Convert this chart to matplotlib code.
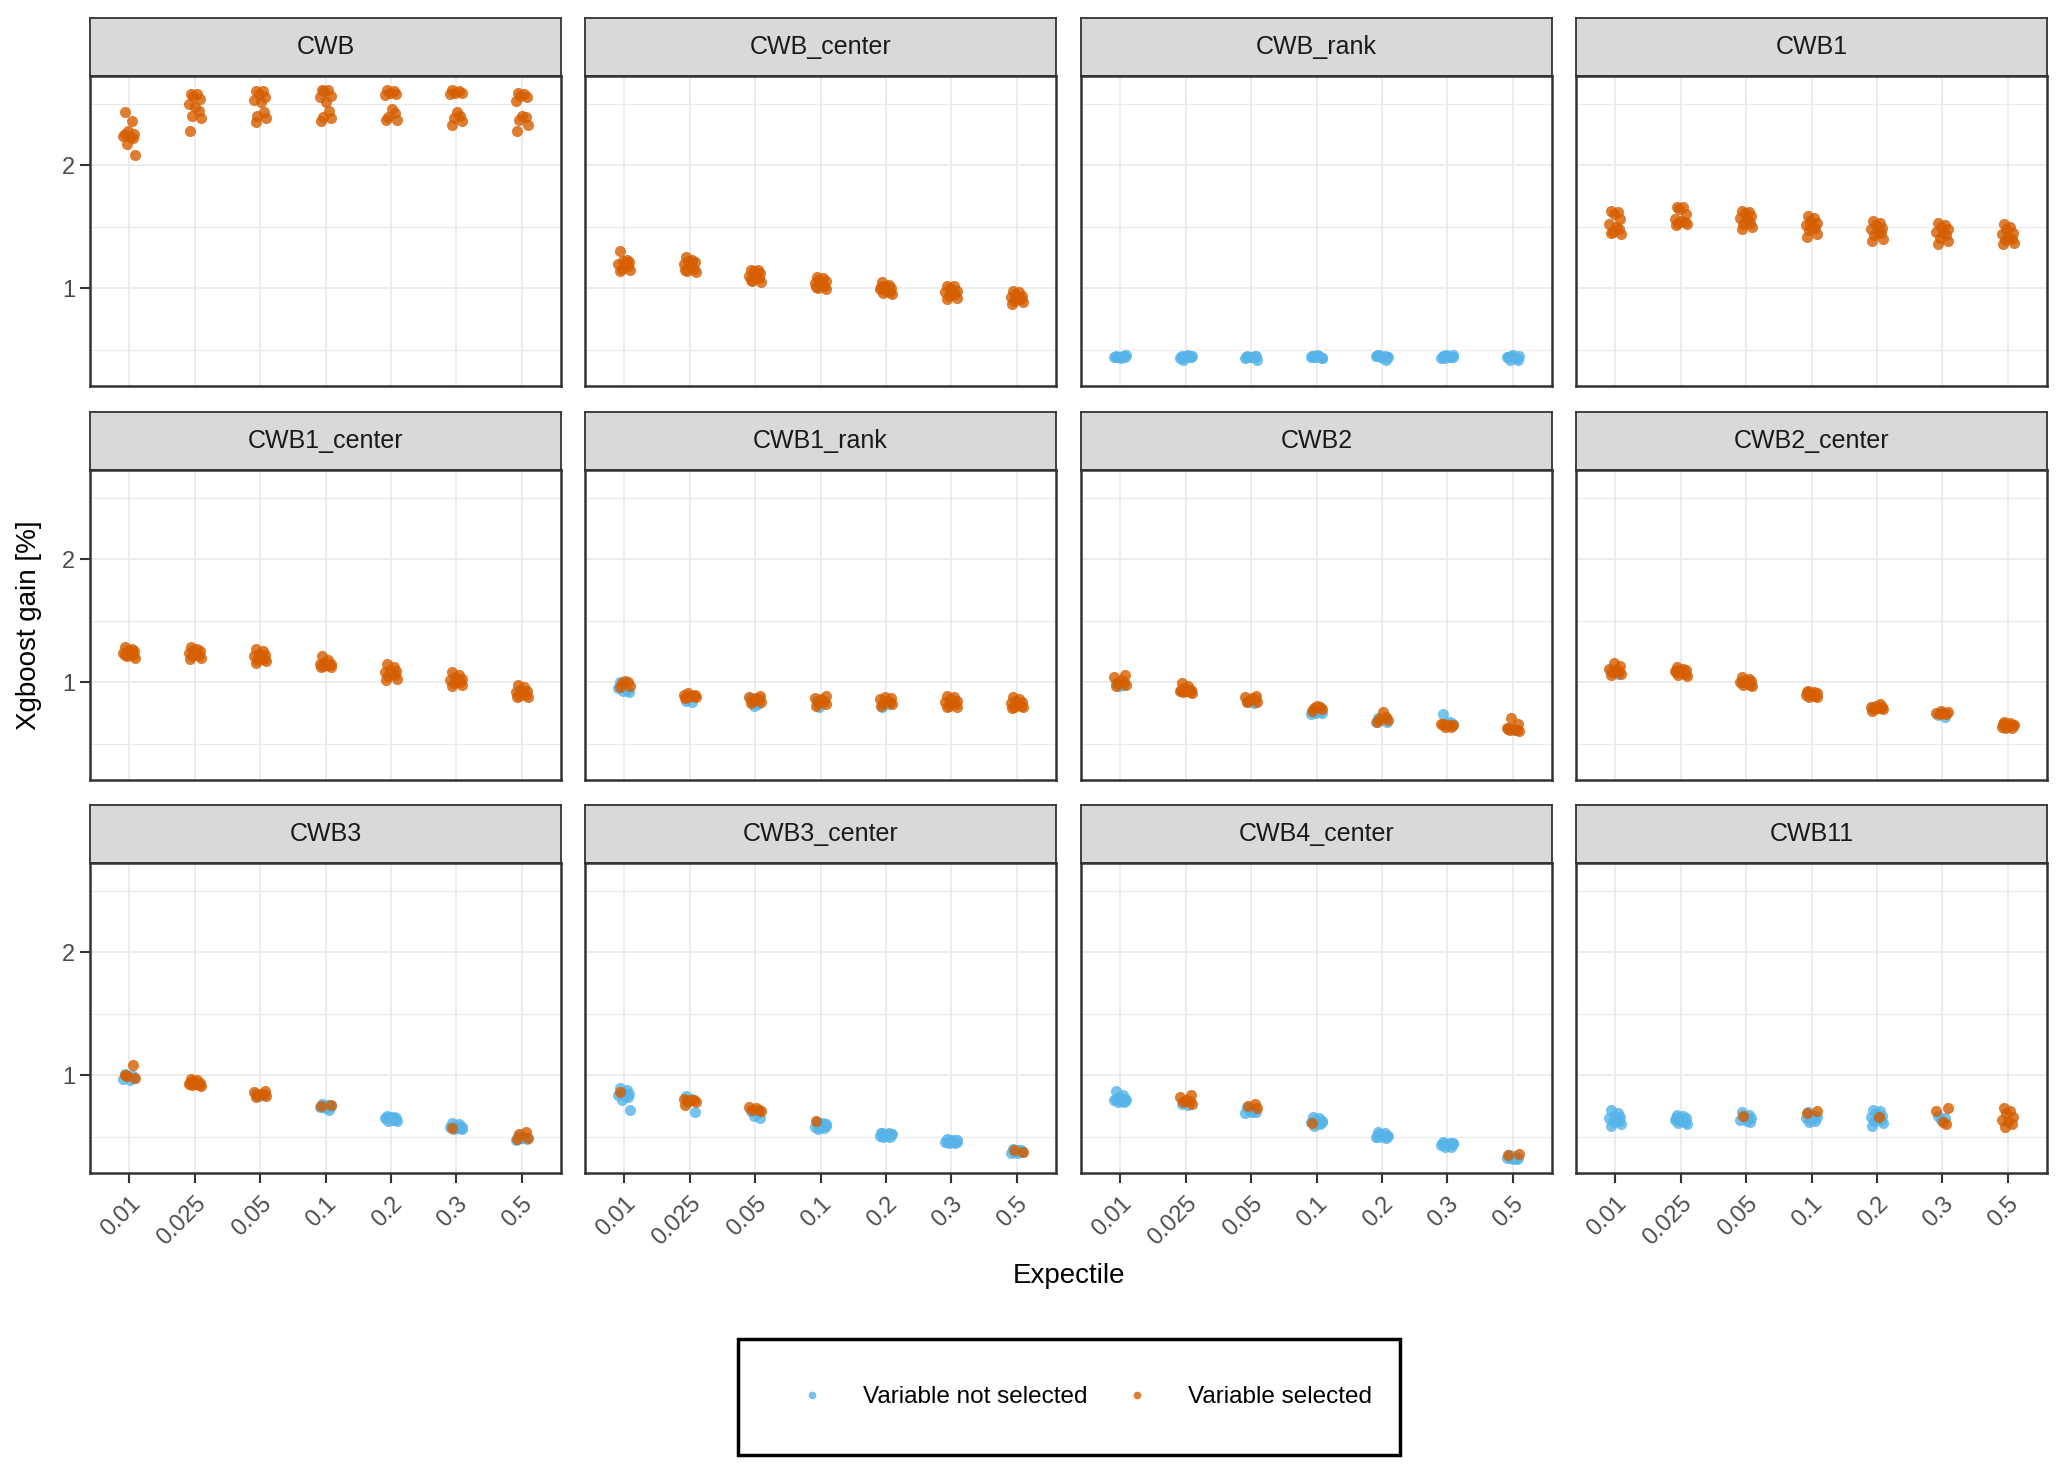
import matplotlib.pyplot as plt
from matplotlib.lines import Line2D
from matplotlib.patches import Rectangle

plt.rcParams['font.family'] = ['Liberation Sans', 'DejaVu Sans']

expectiles = ['0.01', '0.025', '0.05', '0.1', '0.2', '0.3', '0.5']
panels = ['CWB', 'CWB_center', 'CWB_rank', 'CWB1',
          'CWB1_center', 'CWB1_rank', 'CWB2', 'CWB2_center',
          'CWB3', 'CWB3_center', 'CWB4_center', 'CWB11']

# Xgboost gain [%] per expectile (one list per expectile)
# _sel = variable selected, _not = variable not selected
cwb_sel = [[2.43, 2.36, 2.28, 2.25, 2.24, 2.23, 2.22, 2.17, 2.08, 2.25],
           [2.58, 2.58, 2.56, 2.54, 2.50, 2.47, 2.44, 2.40, 2.38, 2.28],
           [2.60, 2.60, 2.58, 2.55, 2.53, 2.51, 2.43, 2.40, 2.38, 2.35],
           [2.61, 2.61, 2.60, 2.56, 2.55, 2.51, 2.44, 2.39, 2.38, 2.36],
           [2.61, 2.60, 2.59, 2.58, 2.57, 2.46, 2.42, 2.39, 2.37, 2.37],
           [2.61, 2.60, 2.59, 2.59, 2.58, 2.43, 2.40, 2.38, 2.36, 2.33],
           [2.59, 2.58, 2.56, 2.55, 2.52, 2.40, 2.39, 2.37, 2.33, 2.28]]
cwb_not = [[], [], [], [], [], [], []]

cwb_center_sel = [[1.30, 1.23, 1.22, 1.21, 1.20, 1.19, 1.18, 1.16, 1.15, 1.14],
                  [1.25, 1.23, 1.22, 1.21, 1.20, 1.18, 1.16, 1.14, 1.13, 1.15],
                  [1.15, 1.15, 1.14, 1.12, 1.10, 1.09, 1.08, 1.06, 1.05, 1.07],
                  [1.09, 1.08, 1.07, 1.06, 1.04, 1.03, 1.02, 1.00, 0.99, 1.01],
                  [1.05, 1.03, 1.02, 1.00, 0.99, 0.98, 0.97, 0.96, 0.95, 1.01],
                  [1.02, 1.02, 1.00, 0.98, 0.97, 0.96, 0.95, 0.94, 0.92, 0.91],
                  [0.98, 0.97, 0.95, 0.94, 0.93, 0.92, 0.91, 0.90, 0.89, 0.87]]
cwb_center_not = [[], [], [], [], [], [], []]

cwb_rank_sel = [[], [], [], [], [], [], []]
cwb_rank_not = [[0.45, 0.45, 0.44, 0.44, 0.44, 0.43, 0.45, 0.44, 0.46, 0.44],
                [0.45, 0.46, 0.44, 0.44, 0.43, 0.45, 0.44, 0.42, 0.45, 0.44],
                [0.45, 0.44, 0.44, 0.45, 0.43, 0.44, 0.45, 0.44, 0.42, 0.44],
                [0.45, 0.45, 0.44, 0.43, 0.44, 0.46, 0.44, 0.44, 0.43, 0.45],
                [0.46, 0.45, 0.44, 0.44, 0.45, 0.43, 0.42, 0.46, 0.44, 0.45],
                [0.45, 0.44, 0.46, 0.44, 0.43, 0.45, 0.44, 0.43, 0.46, 0.44],
                [0.44, 0.43, 0.45, 0.42, 0.44, 0.46, 0.43, 0.42, 0.45, 0.44]]

cwb1_sel = [[1.63, 1.62, 1.60, 1.56, 1.52, 1.50, 1.48, 1.46, 1.44, 1.45],
            [1.66, 1.66, 1.64, 1.60, 1.56, 1.55, 1.54, 1.53, 1.52, 1.51],
            [1.63, 1.62, 1.61, 1.59, 1.57, 1.56, 1.53, 1.52, 1.50, 1.48],
            [1.59, 1.57, 1.55, 1.53, 1.51, 1.50, 1.49, 1.47, 1.44, 1.42],
            [1.55, 1.53, 1.51, 1.49, 1.48, 1.46, 1.45, 1.43, 1.40, 1.38],
            [1.53, 1.51, 1.50, 1.48, 1.46, 1.45, 1.43, 1.41, 1.38, 1.36],
            [1.52, 1.50, 1.48, 1.45, 1.44, 1.42, 1.40, 1.39, 1.37, 1.36]]
cwb1_not = [[], [], [], [], [], [], []]

cwb1_center_sel = [[1.29, 1.27, 1.26, 1.25, 1.24, 1.23, 1.22, 1.21, 1.20, 1.22],
                   [1.29, 1.27, 1.26, 1.25, 1.24, 1.23, 1.22, 1.21, 1.20, 1.19],
                   [1.27, 1.25, 1.23, 1.22, 1.21, 1.20, 1.19, 1.18, 1.17, 1.16],
                   [1.21, 1.18, 1.16, 1.15, 1.15, 1.14, 1.14, 1.13, 1.12, 1.12],
                   [1.15, 1.12, 1.10, 1.09, 1.08, 1.07, 1.06, 1.05, 1.03, 1.02],
                   [1.08, 1.06, 1.04, 1.03, 1.02, 1.01, 1.00, 0.99, 0.98, 0.97],
                   [0.98, 0.96, 0.94, 0.93, 0.92, 0.91, 0.90, 0.89, 0.88, 0.88]]
cwb1_center_not = [[], [], [], [], [], [], []]

cwb1_rank_sel = [[1.01, 1.00, 0.99, 0.97, 0.96],
                 [0.91, 0.90, 0.90, 0.89, 0.89, 0.88, 0.88, 0.87],
                 [0.89, 0.88, 0.87, 0.86, 0.85, 0.84, 0.83],
                 [0.89, 0.87, 0.86, 0.85, 0.83, 0.82, 0.81],
                 [0.88, 0.87, 0.86, 0.85, 0.84, 0.83, 0.82, 0.81],
                 [0.89, 0.88, 0.86, 0.85, 0.84, 0.83, 0.82, 0.81, 0.80, 0.80],
                 [0.88, 0.86, 0.85, 0.84, 0.83, 0.82, 0.81, 0.80, 0.80, 0.79]]
cwb1_rank_not = [[1.00, 0.94, 0.93, 0.92, 0.95],
                 [0.85, 0.84],
                 [0.87, 0.82, 0.81],
                 [0.85, 0.84, 0.80],
                 [0.80, 0.82],
                 [],
                 []]

cwb2_sel = [[1.06, 1.04, 1.02, 1.00, 0.99, 0.98, 0.97],
            [0.99, 0.97, 0.95, 0.94, 0.93, 0.93, 0.92, 0.92, 0.91, 0.94],
            [0.89, 0.88, 0.87, 0.86, 0.85, 0.84, 0.84],
            [0.81, 0.80, 0.79, 0.78, 0.77],
            [0.76, 0.72, 0.70, 0.69, 0.68],
            [0.66, 0.65, 0.64, 0.64, 0.65, 0.66],
            [0.71, 0.66, 0.63, 0.62, 0.61, 0.61, 0.60, 0.62]]
cwb2_not = [[0.99, 0.98, 0.97],
            [],
            [0.84, 0.83, 0.85],
            [0.77, 0.76, 0.75, 0.75, 0.74],
            [0.71, 0.70, 0.69, 0.68, 0.68],
            [0.74, 0.68, 0.67, 0.66],
            [0.63, 0.61]]

cwb2_center_sel = [[1.16, 1.13, 1.11, 1.10, 1.09, 1.08, 1.07, 1.06],
                   [1.12, 1.11, 1.10, 1.10, 1.09, 1.08, 1.07, 1.06, 1.05, 1.08],
                   [1.04, 1.03, 1.02, 1.01, 1.00, 0.99, 0.98, 0.98, 0.97, 1.00],
                   [0.93, 0.92, 0.91, 0.91, 0.90, 0.90, 0.89, 0.88, 0.88, 0.92],
                   [0.82, 0.81, 0.80, 0.80, 0.79, 0.79, 0.78, 0.78, 0.77],
                   [0.77, 0.76, 0.75, 0.75, 0.74, 0.74],
                   [0.68, 0.67, 0.66, 0.65, 0.64, 0.64, 0.63, 0.63, 0.65, 0.66]]
cwb2_center_not = [[1.09, 1.07], [], [], [], [0.80], [0.73, 0.72], []]

cwb3_sel = [[1.08, 0.99, 0.98, 1.00],
            [0.97, 0.96, 0.95, 0.94, 0.93, 0.93, 0.92, 0.92, 0.91, 0.94],
            [0.87, 0.86, 0.85, 0.85, 0.84, 0.83, 0.82],
            [0.76, 0.75],
            [],
            [0.57],
            [0.54, 0.52, 0.49, 0.48]]
cwb3_not = [[1.01, 1.00, 0.99, 0.98, 0.97, 0.96],
            [],
            [0.85, 0.84, 0.83],
            [0.77, 0.76, 0.75, 0.75, 0.74, 0.73, 0.72, 0.74],
            [0.67, 0.66, 0.66, 0.65, 0.65, 0.64, 0.64, 0.63, 0.63, 0.65],
            [0.61, 0.60, 0.59, 0.58, 0.58, 0.57, 0.57, 0.56, 0.56],
            [0.51, 0.50, 0.49, 0.48, 0.47, 0.49]]

cwb3_center_sel = [[0.86],
                   [0.81, 0.80, 0.80, 0.79, 0.78, 0.76],
                   [0.74, 0.73, 0.72, 0.72, 0.71],
                   [0.63],
                   [],
                   [],
                   [0.39, 0.38]]
cwb3_center_not = [[0.90, 0.88, 0.86, 0.85, 0.84, 0.83, 0.82, 0.80, 0.72],
                   [0.83, 0.81, 0.78, 0.70],
                   [0.71, 0.69, 0.67, 0.65],
                   [0.62, 0.61, 0.60, 0.59, 0.58, 0.58, 0.57, 0.56, 0.60],
                   [0.53, 0.53, 0.52, 0.52, 0.51, 0.51, 0.50, 0.50, 0.52, 0.53],
                   [0.48, 0.47, 0.47, 0.46, 0.46, 0.46, 0.45, 0.45, 0.47, 0.46],
                   [0.40, 0.39, 0.38, 0.38, 0.37, 0.37, 0.39]]

cwb4_center_sel = [[],
                   [0.84, 0.82, 0.80, 0.79, 0.78, 0.77],
                   [0.77, 0.75, 0.73],
                   [0.61],
                   [],
                   [],
                   [0.36, 0.35]]
cwb4_center_not = [[0.87, 0.84, 0.82, 0.81, 0.80, 0.79, 0.78, 0.78, 0.80, 0.81],
                   [0.77, 0.76, 0.78],
                   [0.74, 0.72, 0.71, 0.70, 0.69, 0.70],
                   [0.66, 0.65, 0.64, 0.63, 0.62, 0.61, 0.60, 0.59, 0.62],
                   [0.54, 0.53, 0.52, 0.51, 0.50, 0.50, 0.49, 0.52, 0.51, 0.50],
                   [0.46, 0.45, 0.44, 0.44, 0.43, 0.43, 0.42, 0.42, 0.45, 0.44],
                   [0.35, 0.34, 0.34, 0.33, 0.33, 0.32, 0.32, 0.33]]

cwb11_sel = [[],
             [],
             [0.67],
             [0.71, 0.69],
             [0.66],
             [0.73, 0.71, 0.62, 0.60],
             [0.73, 0.71, 0.69, 0.66, 0.64, 0.62, 0.60, 0.58]]
cwb11_not = [[0.72, 0.69, 0.67, 0.66, 0.65, 0.64, 0.63, 0.62, 0.60, 0.59],
             [0.68, 0.67, 0.66, 0.65, 0.64, 0.63, 0.62, 0.61, 0.60, 0.65],
             [0.70, 0.68, 0.66, 0.65, 0.64, 0.63, 0.62],
             [0.70, 0.68, 0.67, 0.66, 0.65, 0.64, 0.63, 0.62],
             [0.72, 0.71, 0.69, 0.67, 0.66, 0.65, 0.64, 0.63, 0.61, 0.59],
             [0.67, 0.65, 0.64],
             []]

sel_data = [cwb_sel, cwb_center_sel, cwb_rank_sel, cwb1_sel,
            cwb1_center_sel, cwb1_rank_sel, cwb2_sel, cwb2_center_sel,
            cwb3_sel, cwb3_center_sel, cwb4_center_sel, cwb11_sel]
not_data = [cwb_not, cwb_center_not, cwb_rank_not, cwb1_not,
            cwb1_center_not, cwb1_rank_not, cwb2_not, cwb2_center_not,
            cwb3_not, cwb3_center_not, cwb4_center_not, cwb11_not]

# fixed horizontal jitter (in category units)
JIT = [-0.06, 0.04, -0.02, 0.08, -0.09, 0.01, 0.06, -0.04, 0.09, -0.07, 0.03, -0.01]

BLUE = '#56B4E9'
ORANGE = '#D55E00'
GRID = '#EBEBEB'
DARK = '#333333'

W, H = 2067, 1475
fig = plt.figure(figsize=(W / 100, H / 100), dpi=100)


def rect(x0, y0, w, h):
    return [x0 / W, 1 - (y0 + h) / H, w / W, h / H]


all_vals = [v for d in sel_data + not_data for grp in d for v in grp]
lo, hi = min(all_vals), max(all_vals)
pad = (hi - lo) * 0.05
ylim = (lo - pad, hi + pad)

col_x = [90, 585, 1081, 1576]
strip_y = [18, 412, 805]
pw, ph, sh = 471, 310, 58

for p, name in enumerate(panels):
    r, c = divmod(p, 4)
    x0 = col_x[c]
    y0 = strip_y[r]

    # strip
    sax = fig.add_axes(rect(x0, y0, pw, sh))
    sax.set_facecolor('#D9D9D9')
    sax.set_xticks([])
    sax.set_yticks([])
    for s in sax.spines.values():
        s.set_color(DARK)
        s.set_linewidth(1.3)
    sax.text(0.5, 0.5, name, ha='center', va='center', fontsize=18,
             color='#1A1A1A', transform=sax.transAxes)

    ax = fig.add_axes(rect(x0, y0 + sh, pw, ph))
    ax.set_xlim(0.4, 7.6)
    ax.set_ylim(*ylim)
    ax.set_xticks(range(1, 8))
    ax.set_yticks([1, 2])
    ax.set_yticks([0.5, 1.5, 2.5], minor=True)
    ax.grid(True, which='major', color=GRID, linewidth=1.3, zorder=0)
    ax.grid(True, which='minor', axis='y', color=GRID, linewidth=0.8, zorder=0)
    ax.set_axisbelow(True)
    for s in ax.spines.values():
        s.set_color(DARK)
        s.set_linewidth(1.8)

    xs_n, ys_n, xs_s, ys_s = [], [], [], []
    for i in range(7):
        k = 0
        for v in not_data[p][i]:
            xs_n.append(i + 1 + JIT[k % len(JIT)])
            ys_n.append(v)
            k += 1
        for v in sel_data[p][i]:
            xs_s.append(i + 1 + JIT[k % len(JIT)])
            ys_s.append(v)
            k += 1
    ax.scatter(xs_n, ys_n, s=64, color=BLUE, alpha=0.8, linewidths=0, zorder=3)
    ax.scatter(xs_s, ys_s, s=64, color=ORANGE, alpha=0.8, linewidths=0, zorder=3)

    ax.tick_params(which='minor', length=0)
    ax.tick_params(which='major', length=7, width=1.5, color=DARK,
                   labelsize=17, labelcolor='#4D4D4D')
    if c == 0:
        ax.set_yticklabels(['1', '2'])
    else:
        ax.tick_params(axis='y', length=0, labelleft=False)
    if r == 2:
        ax.set_xticklabels(expectiles, rotation=45, ha='right',
                           rotation_mode='anchor')
        ax.tick_params(axis='x', pad=7)
    else:
        ax.tick_params(axis='x', length=0, labelbottom=False)

fig.text(1069 / W, 1 - 1276 / H, 'Expectile', ha='center', va='center',
         fontsize=20, color='black')
fig.text(29 / W, 1 - 625 / H, 'Xgboost gain [%]', ha='center', va='center',
         rotation=90, fontsize=20, color='black')

# legend
handles = [Line2D([], [], marker='o', linestyle='', markersize=5.5,
                  markerfacecolor=BLUE, markeredgewidth=0, alpha=0.8),
           Line2D([], [], marker='o', linestyle='', markersize=5.5,
                  markerfacecolor=ORANGE, markeredgewidth=0, alpha=0.8)]
fig.legend(handles, ['Variable not selected', 'Variable selected'],
           loc='center', bbox_to_anchor=(1080 / W, 1 - 1397 / H), ncol=2,
           frameon=False, fontsize=17.5, handlelength=2.0,
           handletextpad=1.1, columnspacing=1.05, borderpad=0)
fig.patches.append(Rectangle((738 / W, 1 - 1455 / H), 662 / W, 116 / H,
                             transform=fig.transFigure, fill=False,
                             edgecolor='black', linewidth=2.5))

fig.savefig('out.png', dpi=100)
